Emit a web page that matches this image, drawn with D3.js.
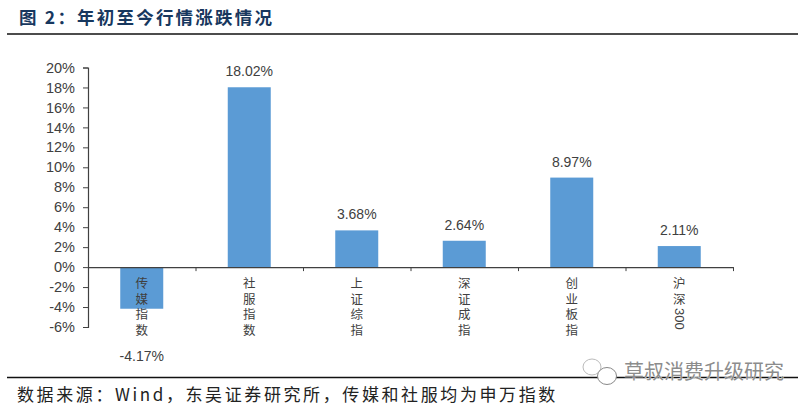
<!DOCTYPE html>
<html>
<head>
<meta charset="utf-8">
<script src="https://cdn.jsdelivr.net/npm/d3@7"></script>
<style>
  html, body { margin: 0; padding: 0; background: #fff; }
  svg { display: block; }
  .cjk { font-family: "Noto Sans CJK SC", sans-serif; }
  .num { font-family: "Liberation Sans", Arial, sans-serif; }
</style>
</head>
<body>
<div id="chart"></div>
<script>
// Data
var categories = ["传媒指数", "社服指数", "上证综指", "深证成指", "创业板指", "沪深300"];
var values = [-4.17, 18.02, 3.68, 2.64, 8.97, 2.11];
var valueLabels = ["-4.17%", "18.02%", "3.68%", "2.64%", "8.97%", "2.11%"];
var yTicks = [-6, -4, -2, 0, 2, 4, 6, 8, 10, 12, 14, 16, 18, 20];
var titleText = "图 2：年初至今行情涨跌情况";
var sourceText = "数据来源：Wind，东吴证券研究所，传媒和社服均为申万指数";
var watermarkText = "草叔消费升级研究";

var width = 809;
var height = 408;

var svg = d3.select("#chart")
    .append("svg")
    .attr("width", width)
    .attr("height", height);

// Scales
var y = d3.scaleLinear().domain([-6, 20]).range([327, 67.5]);
var x = d3.scaleBand().domain(categories).range([88, 733]).paddingInner(0.6).paddingOuter(0.3);

// Title and rules
svg.append("text")
    .attr("class", "cjk")
    .attr("x", 19)
    .attr("y", 24)
    .attr("font-size", 17.5)
    .attr("font-weight", 700)
    .attr("letter-spacing", 2.2)
    .attr("fill", "#17375e")
    .text(titleText);

svg.selectAll(".rule")
    .data([34, 377.5])
    .enter().append("line")
    .attr("class", "rule")
    .attr("x1", 7)
    .attr("x2", 798)
    .attr("y1", function(d) { return d; })
    .attr("y2", function(d) { return d; })
    .attr("stroke", "#111")
    .attr("stroke-width", 1.6);

// Bars
svg.selectAll(".bar")
    .data(values)
    .enter().append("rect")
    .attr("class", "bar")
    .attr("x", function(d, i) { return x(categories[i]); })
    .attr("width", x.bandwidth())
    .attr("y", function(d) { return y(Math.max(d, 0)); })
    .attr("height", function(d) { return Math.abs(y(d) - y(0)); })
    .attr("fill", "#5b9bd5");

// Y axis
var yAxis = d3.axisLeft(y)
    .tickValues(yTicks)
    .tickSize(5)
    .tickPadding(8)
    .tickFormat(function(d) { return d + "%"; });

var yG = svg.append("g")
    .attr("class", "num")
    .attr("transform", "translate(88,0)")
    .call(yAxis);
yG.selectAll("text").attr("font-size", 14.5).attr("fill", "#404040");
yG.selectAll("line").attr("stroke", "#404040");
yG.select(".domain").attr("stroke", "#404040").attr("stroke-width", 1.2);

// X axis line with ticks between the bars
var xTickScale = d3.scaleLinear().domain([0, 6]).range([88, 733]);
var xAxis = d3.axisBottom(xTickScale)
    .tickValues(d3.range(0, 7))
    .tickSize(4)
    .tickSizeOuter(0)
    .tickFormat("");

var xG = svg.append("g")
    .attr("transform", "translate(0," + y(0) + ")")
    .call(xAxis);
xG.selectAll("line").attr("stroke", "#404040");
xG.select(".domain").attr("stroke", "#404040").attr("stroke-width", 1.2);

// Category labels, stacked vertically; digits stay tight
var cats = svg.selectAll(".cat")
    .data(categories)
    .enter().append("text")
    .attr("class", "cat cjk")
    .attr("transform", function(d) {
        return "translate(" + (x(d) + x.bandwidth() / 2) + ",277)";
    })
    .style("writing-mode", "vertical-rl")
    .attr("font-size", 12.5)
    .attr("fill", "#404040");

cats.append("tspan")
    .attr("letter-spacing", 3)
    .text(function(d) { return d.replace(/[0-9]/g, ""); });

cats.append("tspan")
    .attr("class", "num")
    .attr("font-size", 13)
    .text(function(d) { return d.replace(/[^0-9]/g, ""); });

// Value labels
svg.selectAll(".val")
    .data(values)
    .enter().append("text")
    .attr("class", "val num")
    .attr("x", function(d, i) { return x(categories[i]) + x.bandwidth() / 2; })
    .attr("y", function(d, i) { return d < 0 ? 361 : y(d) - 11; })
    .attr("text-anchor", "middle")
    .attr("font-size", 14)
    .attr("fill", "#404040")
    .text(function(d, i) { return valueLabels[i]; });

// Source note
svg.append("text")
    .attr("class", "cjk")
    .attr("x", 17)
    .attr("y", 401)
    .attr("font-size", 17)
    .attr("letter-spacing", 2.6)
    .attr("fill", "#222")
    .text(sourceText);

// Watermark
var wm = svg.append("g");
wm.append("ellipse").attr("cx", 592).attr("cy", 367).attr("rx", 9).attr("ry", 8)
    .attr("fill", "#fff").attr("stroke", "#bbb");
wm.append("ellipse").attr("cx", 607).attr("cy", 376).attr("rx", 9.5).attr("ry", 8.5)
    .attr("fill", "#fff").attr("stroke", "#888");
wm.append("text")
    .attr("class", "cjk")
    .attr("x", 624)
    .attr("y", 379)
    .attr("font-size", 20)
    .attr("fill", "#8c8c8c")
    .attr("stroke", "#fff")
    .attr("stroke-width", 0.6)
    .attr("paint-order", "stroke")
    .text(watermarkText);
</script>
</body>
</html>
